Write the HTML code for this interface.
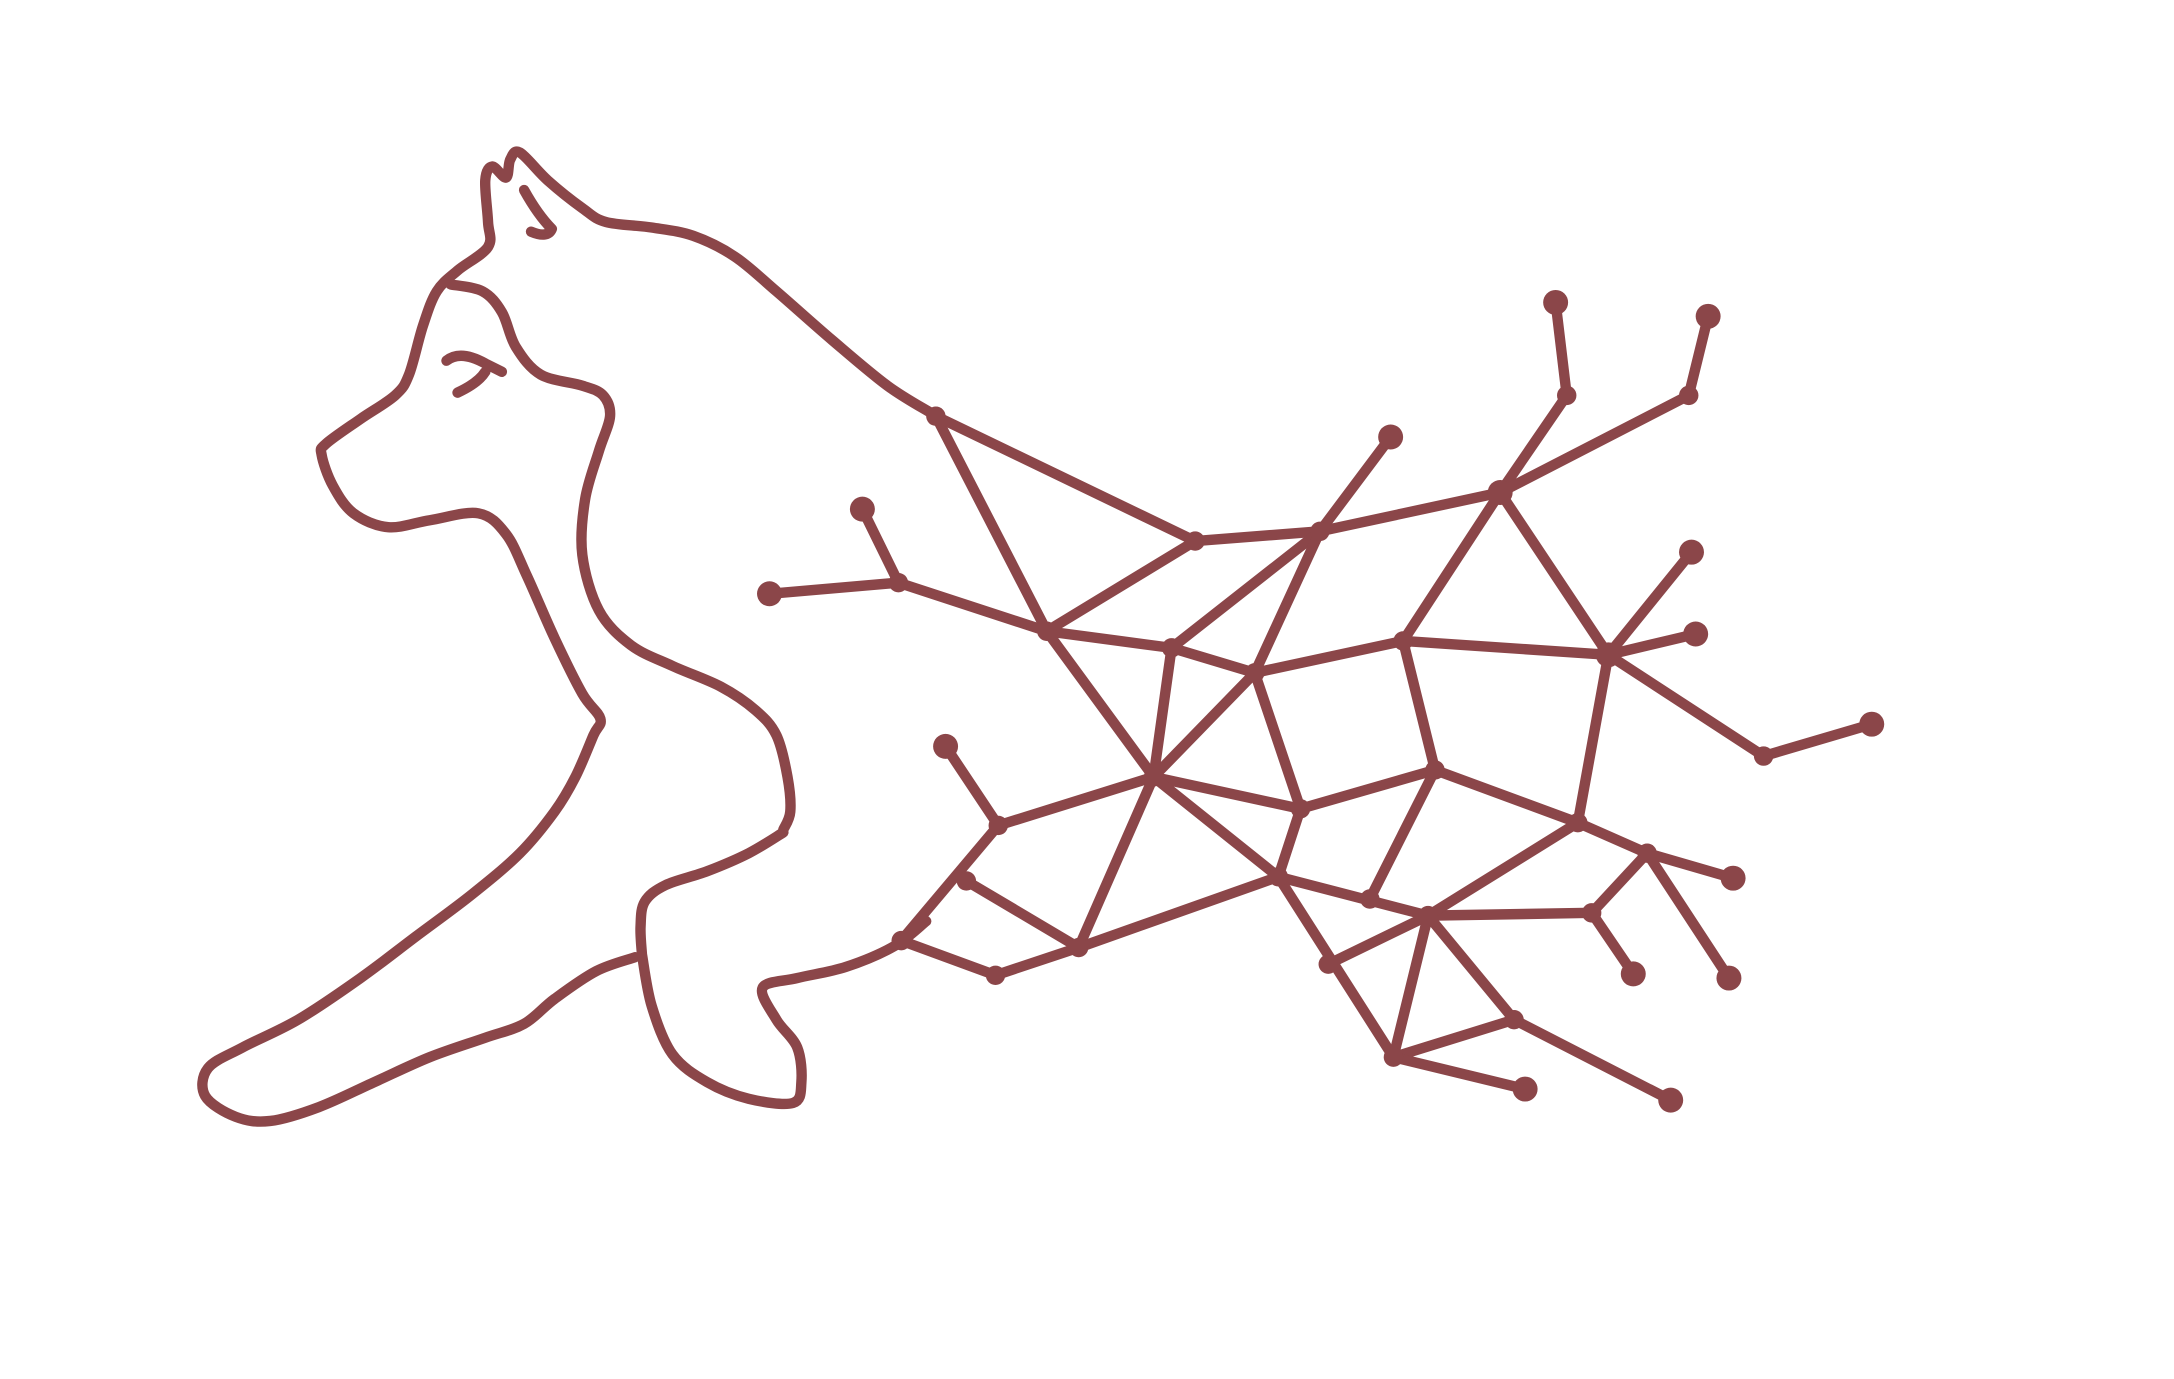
<!DOCTYPE html>
<html><head><meta charset="utf-8"><style>html,body{margin:0;padding:0;background:#fff}svg{display:block}</style></head>
<body>
<svg id="root" width="2174" height="1379" viewBox="0 0 1568 994" preserveAspectRatio="none" xmlns="http://www.w3.org/2000/svg">
<rect width="1568" height="994" fill="#fff"/>
<g fill="none" stroke="#8b4649" stroke-width="7.5" stroke-linecap="round" stroke-linejoin="round">
<path id="p1" d=""/>
<path id="p2" d=""/>
<path id="p3" d=""/>
<path d="M322,260 Q332,252 350,262 L362,268"/>
<path d="M330,283 Q345,276 350,268"/>
<path d="M378,137 Q388,155 398,165 Q395,172 383,167"/>
</g>
<g id="net" stroke="#8b4649" stroke-width="7.5" stroke-linecap="round" fill="#8b4649"></g>
</svg>
<script>
function smooth(pts){let d='M'+pts[0][0]+','+pts[0][1];for(let i=0;i<pts.length-1;i++){const p0=pts[i-1]||pts[i],p1=pts[i],p2=pts[i+1],p3=pts[i+2]||p2;d+=' C'+(p1[0]+(p2[0]-p0[0])/6)+','+(p1[1]+(p2[1]-p0[1])/6)+' '+(p2[0]-(p3[0]-p1[0])/6)+','+(p2[1]-(p3[1]-p1[1])/6)+' '+p2[0]+','+p2[1];}return d;}
const o1=[[672,298],[640,278],[600,245],[560,210],[530,185],[500,170],[470,164],[437,160],[420,150],[395,130],[375,110],[368,115],[365,128],[355,120],[350,130],[352,160],[352,178],[330,195],[315,210],[305,235],[295,270],[285,285],[260,302],[235,320],[232,328],[240,350],[255,370],[280,380],[310,375],[345,370],[365,385],[380,415],[400,460],[420,500],[433,518],[428,530],[415,560],[400,585],[375,615],[340,645],[300,675],[260,705],[215,735],[175,755],[150,770],[148,790],[170,805],[195,808],[230,798],[270,780],[310,762],[350,748],[378,738],[400,720],[430,700],[458,690]];
const o2=[[463,688],[470,725],[485,760],[510,780],[540,792],[572,795],[578,780],[575,755],[560,735],[550,712],[575,705],[610,697],[645,682],[668,664]];
const o3=[[565,598],[570,585],[568,560],[560,530],[545,512],[520,495],[485,480],[455,465],[432,440],[420,400],[422,360],[432,325],[440,300],[435,285],[420,278],[390,270],[372,250],[362,225],[348,210],[325,205]];
const o4=[[565,600],[540,615],[510,628],[480,638],[465,650],[462,668],[463,688]];
const nodes={A:[675,300],B:[862,390],C:[952,383],D:[1082,355],E:[1130,285],F:[1122,218],G:[1218,285],H:[1232,228],I:[1003,315],J:[622,367],K:[555,428],L:[648,420],M:[755,455],N:[845,467],O:[905,485],P:[1012,462],Q:[1160,472],R:[1220,398],S:[1223,457],T:[1272,545],U:[1350,522],V:[832,560],W:[938,583],X:[1035,555],Y:[1138,593],Z:[720,595],AA:[682,538],AB:[922,632],AC:[778,683],AD:[718,703],AE:[650,678],AF:[697,635],AG:[988,648],AH:[1030,660],AI:[1148,658],AJ:[1188,615],AK:[1250,633],AL:[1178,702],AM:[1247,705],AN:[1005,762],AO:[1092,735],AP:[1100,785],AQ:[1205,793],AR:[958,695]};
const edges=[["A","M"],["A","B"],["B","M"],["B","C"],["C","D"],["D","E"],["E","F"],["D","G"],["G","H"],["C","I"],["C","N"],["C","O"],["O","V"],["M","V"],["N","V"],["N","O"],["M","N"],["L","M"],["J","L"],["K","L"],["D","P"],["D","Q"],["P","Q"],["O","P"],["Q","R"],["Q","S"],["Q","T"],["T","U"],["Q","Y"],["P","X"],["O","W"],["V","W"],["W","X"],["X","Y"],["X","AG"],["V","AB"],["W","AB"],["V","Z"],["Z","AA"],["V","AC"],["Z","AE"],["AF","AC"],["AC","AB"],["AD","AC"],["AE","AD"],["AB","AH"],["AH","AI"],["AH","Y"],["Y","AJ"],["AJ","AK"],["AJ","AM"],["AJ","AI"],["AI","AL"],["AB","AN"],["AR","AH"],["AH","AN"],["AH","AO"],["AO","AN"],["AN","AP"],["AO","AQ"]];
const big=["F","H","I","J","K","U","R","S","AA","AK","AL","AM","AP","AQ","D","Q"];
document.getElementById('p1').setAttribute('d',smooth(o1));
document.getElementById('p2').setAttribute('d',smooth(o2)+' '+smooth(o4));
document.getElementById('p3').setAttribute('d',smooth(o3));
const g=document.getElementById('net');const ns='http://www.w3.org/2000/svg';
edges.forEach(e=>{const l=document.createElementNS(ns,'line');


const a=nodes[e[0]],b=nodes[e[1]];l.setAttribute('x1',a[0]);l.setAttribute('y1',a[1]);l.setAttribute('x2',b[0]);l.setAttribute('y2',b[1]);g.appendChild(l);});
Object.keys(nodes).forEach(k=>{const c=document.createElementNS(ns,'circle');


c.setAttribute('cx',nodes[k][0]);c.setAttribute('cy',nodes[k][1]);c.setAttribute('r',big.includes(k)?9:7);c.setAttribute('stroke','none');g.appendChild(c);});
</script>
</body></html>
